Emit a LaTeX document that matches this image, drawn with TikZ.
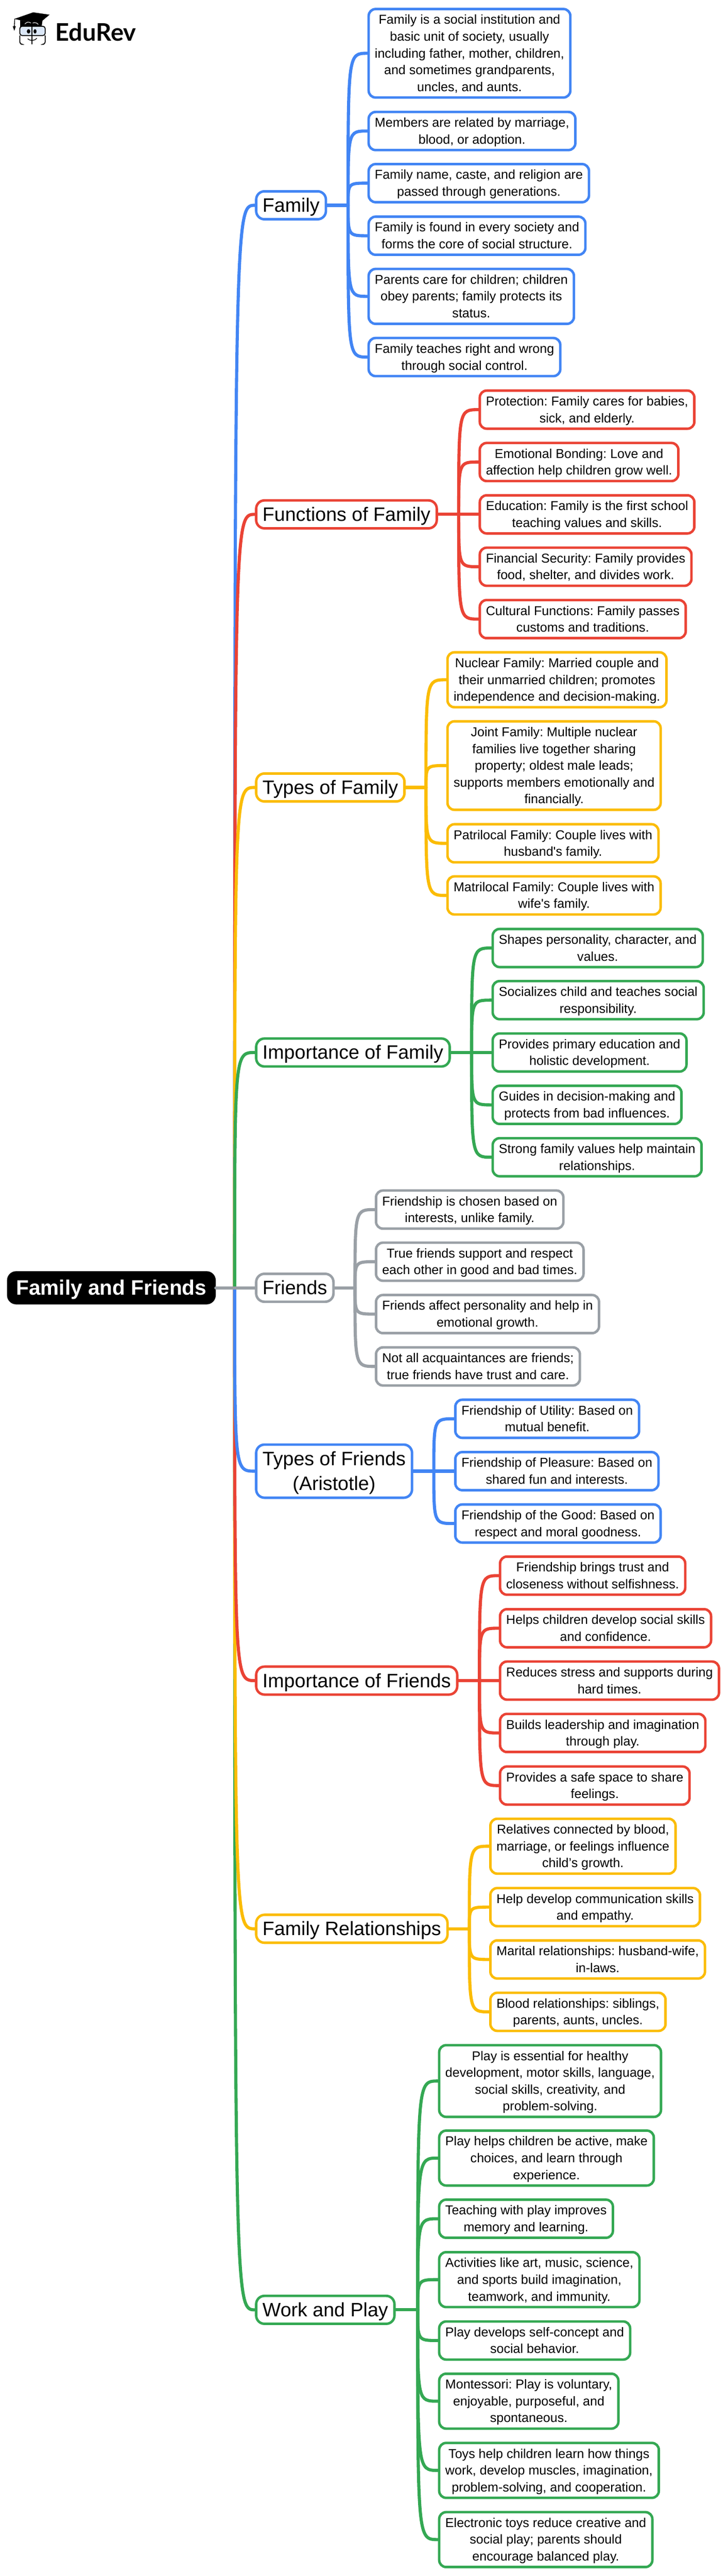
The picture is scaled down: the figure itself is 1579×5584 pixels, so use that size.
\documentclass[tikz,border=0pt]{standalone}
\usepackage{fontspec}
\setmainfont{Liberation Sans}
\newfontfamily\logofont{Lato}
\frenchspacing
\definecolor{mapblue}{HTML}{4285F4}
\definecolor{mapred}{HTML}{EA4335}
\definecolor{mapyellow}{HTML}{FBBC04}
\definecolor{mapgreen}{HTML}{34A853}
\definecolor{mapgray}{HTML}{9AA0A6}
\definecolor{glassblue}{HTML}{DCE8F8}
\def\ml#1{\raisebox{-0.066\baselineskip}[\height][\depth]{\begin{tabular}{@{}c@{}}#1\end{tabular}}}
\tikzset{
	leafbox/.style={draw=#1, fill=white, line width=5.4pt, rounded corners=15pt, anchor=west,
		inner xsep=13.3pt, inner ysep=4.9pt, font=\fontsize{28}{36.4}\selectfont},
	mainbox/.style={draw=#1, fill=white, line width=5.4pt, rounded corners=18pt, anchor=west,
		inner xsep=13.8pt, inner ysep=3pt, font=\fontsize{42}{54.6}\selectfont},
	rootbox/.style={fill=black, text=white, rounded corners=20pt, anchor=west,
		inner xsep=20pt, inner ysep=6.75pt, font=\fontsize{45.3}{58.5}\selectfont\bfseries},
	link/.style={draw=#1, line width=6.8pt, line cap=round}
}

\begin{document}
\begin{tikzpicture}[x=1pt, y=-1pt]
		\useasboundingbox (0, 0) rectangle (1579, 5584);

		%%%%% LOGO %%%%%
		\draw[fill=black] (32, 41) -- (72, 27) -- (107, 32) -- (83, 52) -- cycle;
		\draw[fill=black] (44, 44) -- (83, 52) -- (92, 44) -- (90, 58) -- (44, 58) -- cycle;
		\draw[line width=1.5pt] (32, 41) -- (31, 58);
		\draw[fill=black] (28, 57) -- (34, 57) -- (31, 66) -- cycle;
		\draw[line width=1.2pt, white] (54, 52) .. controls (58, 47) and (63, 47) .. (67, 50);
		\draw[line width=1.2pt, white] (71, 50) .. controls (75, 48) and (80, 49) .. (83, 53);
		\draw[fill=glassblue, line width=2pt, rounded corners=5pt] (43, 57) rectangle (98, 77);
		\draw[line width=2pt, rounded corners=5pt] (46, 96) -- (43, 96) -- (43, 77);
		\draw[line width=2pt, rounded corners=5pt] (95, 96) -- (98, 96) -- (98, 77);
		\draw[line width=2pt] (69, 57) -- (69, 96);
		\draw[fill=black] (62, 68) ellipse (3.5 and 4.5);
		\draw[fill=black] (76, 68) ellipse (3 and 4.5);
		\draw[line width=1.5pt] (60, 84) .. controls (65, 89) and (75, 89) .. (80, 83);
		\node[anchor=west, inner sep=0pt, font=\logofont\fontsize{52.5}{60}\selectfont\bfseries] (logotext) at (120, 69) {EduRev};

		%%%%% ROOT %%%%%
		\node[rootbox] (root) at (15, 2791.5) {\ml{Family and Friends}};
		\coordinate (trunk) at (509, 2791.5);

		%%%%% MAIN NODES %%%%%
		\node[mainbox=mapblue] (family) at (553, 445) {\ml{Family}};
		\node[mainbox=mapred] (functions) at (553, 1115) {\ml{Functions of Family}};
		\node[mainbox=mapyellow] (types) at (553, 1707) {\ml{Types of Family}};
		\node[mainbox=mapgreen] (importance) at (553, 2281.5) {\ml{Importance of Family}};
		\node[mainbox=mapgray] (friends) at (553, 2791.5) {\ml{Friends}};
		\node[mainbox=mapblue] (friendtypes) at (553, 3189) {\ml{Types of Friends\\(Aristotle)}};
		\node[mainbox=mapred] (friendimp) at (553, 3643) {\ml{Importance of Friends}};
		\node[mainbox=mapyellow] (relations) at (553, 4181) {\ml{Family Relationships}};
		\node[mainbox=mapgreen] (work) at (553, 5007) {\ml{Work and Play}};

		%%%%% FAMILY %%%%%
		\coordinate (familyfork) at (755, 445);
		\node[leafbox=mapblue] (fama) at (797, 115.5) {\ml{Family is a social institution and\\basic unit of society, usually\\including father, mother, children,\\and sometimes grandparents,\\uncles, and aunts.}};
		\node[leafbox=mapblue] (famb) at (797, 284) {\ml{Members are related by marriage,\\blood, or adoption.}};
		\node[leafbox=mapblue] (famc) at (797, 397) {\ml{Family name, caste, and religion are\\passed through generations.}};
		\node[leafbox=mapblue] (famd) at (797, 511) {\ml{Family is found in every society and\\forms the core of social structure.}};
		\node[leafbox=mapblue] (fame) at (797, 642.5) {\ml{Parents care for children; children\\obey parents; family protects its\\status.}};
		\node[leafbox=mapblue] (famf) at (797, 774) {\ml{Family teaches right and wrong\\through social control.}};

		\draw[link=mapblue] (family.east) -- (familyfork);
		\draw[link=mapblue] (familyfork) .. controls (familyfork |- fama.west) .. (fama.west);
		\draw[link=mapblue] (familyfork) .. controls (familyfork |- famb.west) .. (famb.west);
		\draw[link=mapblue] (familyfork) .. controls (familyfork |- famc.west) .. (famc.west);
		\draw[link=mapblue] (familyfork) .. controls (familyfork |- famd.west) .. (famd.west);
		\draw[link=mapblue] (familyfork) .. controls (familyfork |- fame.west) .. (fame.west);
		\draw[link=mapblue] (familyfork) .. controls (familyfork |- famf.west) .. (famf.west);

		%%%%% FUNCTIONS %%%%%
		\coordinate (functionsfork) at (995, 1115);
		\node[leafbox=mapred] (funa) at (1038, 888) {\ml{Protection: Family cares for babies,\\sick, and elderly.}};
		\node[leafbox=mapred] (funb) at (1038, 1001.5) {\ml{Emotional Bonding: Love and\\affection help children grow well.}};
		\node[leafbox=mapred] (func) at (1038, 1115) {\ml{Education: Family is the first school\\teaching values and skills.}};
		\node[leafbox=mapred] (fund) at (1038, 1228.5) {\ml{Financial Security: Family provides\\food, shelter, and divides work.}};
		\node[leafbox=mapred] (fune) at (1038, 1342) {\ml{Cultural Functions: Family passes\\customs and traditions.}};

		\draw[link=mapred] (functions.east) -- (functionsfork);
		\draw[link=mapred] (functionsfork) .. controls (functionsfork |- funa.west) .. (funa.west);
		\draw[link=mapred] (functionsfork) .. controls (functionsfork |- funb.west) .. (funb.west);
		\draw[link=mapred] (functionsfork) -- (func.west);
		\draw[link=mapred] (functionsfork) .. controls (functionsfork |- fund.west) .. (fund.west);
		\draw[link=mapred] (functionsfork) .. controls (functionsfork |- fune.west) .. (fune.west);

		%%%%% TYPES %%%%%
		\coordinate (typesfork) at (924, 1707);
		\node[leafbox=mapyellow] (typa) at (968, 1473.5) {\ml{Nuclear Family: Married couple and\\their unmarried children; promotes\\independence and decision-making.}};
		\node[leafbox=mapyellow] (typb) at (968, 1659.5) {\ml{Joint Family: Multiple nuclear\\families live together sharing\\property; oldest male leads;\\supports members emotionally and\\financially.}};
		\node[leafbox=mapyellow] (typc) at (968, 1828) {\ml{Patrilocal Family: Couple lives with\\husband\textquotesingle s family.}};
		\node[leafbox=mapyellow] (typd) at (968, 1941) {\ml{Matrilocal Family: Couple lives with\\wife\textquotesingle s family.}};

		\draw[link=mapyellow] (types.east) -- (typesfork);
		\draw[link=mapyellow] (typesfork) .. controls (typesfork |- typa.west) .. (typa.west);
		\draw[link=mapyellow] (typesfork) .. controls (typesfork |- typb.west) .. (typb.west);
		\draw[link=mapyellow] (typesfork) .. controls (typesfork |- typc.west) .. (typc.west);
		\draw[link=mapyellow] (typesfork) .. controls (typesfork |- typd.west) .. (typd.west);

		%%%%% IMPORTANCE %%%%%
		\coordinate (importancefork) at (1023, 2281.5);
		\node[leafbox=mapgreen] (impa) at (1066, 2055) {\ml{Shapes personality, character, and\\values.}};
		\node[leafbox=mapgreen] (impb) at (1066, 2168) {\ml{Socializes child and teaches social\\responsibility.}};
		\node[leafbox=mapgreen] (impc) at (1066, 2281.5) {\ml{Provides primary education and\\holistic development.}};
		\node[leafbox=mapgreen] (impd) at (1066, 2395) {\ml{Guides in decision-making and\\protects from bad influences.}};
		\node[leafbox=mapgreen] (impe) at (1066, 2508.5) {\ml{Strong family values help maintain\\relationships.}};

		\draw[link=mapgreen] (importance.east) -- (importancefork);
		\draw[link=mapgreen] (importancefork) .. controls (importancefork |- impa.west) .. (impa.west);
		\draw[link=mapgreen] (importancefork) .. controls (importancefork |- impb.west) .. (impb.west);
		\draw[link=mapgreen] (importancefork) -- (impc.west);
		\draw[link=mapgreen] (importancefork) .. controls (importancefork |- impd.west) .. (impd.west);
		\draw[link=mapgreen] (importancefork) .. controls (importancefork |- impe.west) .. (impe.west);

		%%%%% FRIENDS %%%%%
		\coordinate (friendsfork) at (770, 2791.5);
		\node[leafbox=mapgray] (fria) at (813, 2622) {\ml{Friendship is chosen based on\\interests, unlike family.}};
		\node[leafbox=mapgray] (frib) at (813, 2735) {\ml{True friends support and respect\\each other in good and bad times.}};
		\node[leafbox=mapgray] (fric) at (813, 2848.5) {\ml{Friends affect personality and help in\\emotional growth.}};
		\node[leafbox=mapgray] (frid) at (813, 2962) {\ml{Not all acquaintances are friends;\\true friends have trust and care.}};

		\draw[link=mapgray] (friends.east) -- (friendsfork);
		\draw[link=mapgray] (friendsfork) .. controls (friendsfork |- fria.west) .. (fria.west);
		\draw[link=mapgray] (friendsfork) .. controls (friendsfork |- frib.west) .. (frib.west);
		\draw[link=mapgray] (friendsfork) .. controls (friendsfork |- fric.west) .. (fric.west);
		\draw[link=mapgray] (friendsfork) .. controls (friendsfork |- frid.west) .. (frid.west);

		%%%%% TYPES OF FRIENDS %%%%%
		\coordinate (friendtypesfork) at (941, 3189);
		\node[leafbox=mapblue] (ftya) at (985, 3075.5) {\ml{Friendship of Utility: Based on\\mutual benefit.}};
		\node[leafbox=mapblue] (ftyb) at (985, 3189) {\ml{Friendship of Pleasure: Based on\\shared fun and interests.}};
		\node[leafbox=mapblue] (ftyc) at (985, 3302.5) {\ml{Friendship of the Good: Based on\\respect and moral goodness.}};

		\draw[link=mapblue] (friendtypes.east) -- (friendtypesfork);
		\draw[link=mapblue] (friendtypesfork) .. controls (friendtypesfork |- ftya.west) .. (ftya.west);
		\draw[link=mapblue] (friendtypesfork) -- (ftyb.west);
		\draw[link=mapblue] (friendtypesfork) .. controls (friendtypesfork |- ftyc.west) .. (ftyc.west);

		%%%%% IMPORTANCE OF FRIENDS %%%%%
		\coordinate (friendimpfork) at (1040, 3643);
		\node[leafbox=mapred] (fima) at (1082, 3415.5) {\ml{Friendship brings trust and\\closeness without selfishness.}};
		\node[leafbox=mapred] (fimb) at (1082, 3529.5) {\ml{Helps children develop social skills\\and confidence.}};
		\node[leafbox=mapred] (fimc) at (1082, 3643) {\ml{Reduces stress and supports during\\hard times.}};
		\node[leafbox=mapred] (fimd) at (1082, 3756.5) {\ml{Builds leadership and imagination\\through play.}};
		\node[leafbox=mapred] (fime) at (1082, 3870.5) {\ml{Provides a safe space to share\\feelings.}};

		\draw[link=mapred] (friendimp.east) -- (friendimpfork);
		\draw[link=mapred] (friendimpfork) .. controls (friendimpfork |- fima.west) .. (fima.west);
		\draw[link=mapred] (friendimpfork) .. controls (friendimpfork |- fimb.west) .. (fimb.west);
		\draw[link=mapred] (friendimpfork) -- (fimc.west);
		\draw[link=mapred] (friendimpfork) .. controls (friendimpfork |- fimd.west) .. (fimd.west);
		\draw[link=mapred] (friendimpfork) .. controls (friendimpfork |- fime.west) .. (fime.west);

		%%%%% RELATIONSHIPS %%%%%
		\coordinate (relationsfork) at (1018, 4181);
		\node[leafbox=mapyellow] (rela) at (1061, 4002) {\ml{Relatives connected by blood,\\marriage, or feelings influence\\child’s growth.}};
		\node[leafbox=mapyellow] (relb) at (1061, 4134) {\ml{Help develop communication skills\\and empathy.}};
		\node[leafbox=mapyellow] (relc) at (1061, 4247.5) {\ml{Marital relationships: husband-wife,\\in-laws.}};
		\node[leafbox=mapyellow] (reld) at (1061, 4361) {\ml{Blood relationships: siblings,\\parents, aunts, uncles.}};

		\draw[link=mapyellow] (relations.east) -- (relationsfork);
		\draw[link=mapyellow] (relationsfork) .. controls (relationsfork |- rela.west) .. (rela.west);
		\draw[link=mapyellow] (relationsfork) .. controls (relationsfork |- relb.west) .. (relb.west);
		\draw[link=mapyellow] (relationsfork) .. controls (relationsfork |- relc.west) .. (relc.west);
		\draw[link=mapyellow] (relationsfork) .. controls (relationsfork |- reld.west) .. (reld.west);

		%%%%% WORK AND PLAY %%%%%
		\coordinate (workfork) at (906, 5007);
		\node[leafbox=mapgreen] (wora) at (950, 4511) {\ml{Play is essential for healthy\\development, motor skills, language,\\social skills, creativity, and\\problem-solving.}};
		\node[leafbox=mapgreen] (worb) at (950, 4678) {\ml{Play helps children be active, make\\choices, and learn through\\experience.}};
		\node[leafbox=mapgreen] (worc) at (950, 4809.5) {\ml{Teaching with play improves\\memory and learning.}};
		\node[leafbox=mapgreen] (word) at (950, 4941.5) {\ml{Activities like art, music, science,\\and sports build imagination,\\teamwork, and immunity.}};
		\node[leafbox=mapgreen] (wore) at (950, 5073.5) {\ml{Play develops self-concept and\\social behavior.}};
		\node[leafbox=mapgreen] (worf) at (950, 5205) {\ml{Montessori: Play is voluntary,\\enjoyable, purposeful, and\\spontaneous.}};
		\node[leafbox=mapgreen] (worg) at (950, 5355) {\ml{Toys help children learn how things\\work, develop muscles, imagination,\\problem-solving, and cooperation.}};
		\node[leafbox=mapgreen] (worh) at (950, 5505) {\ml{Electronic toys reduce creative and\\social play; parents should\\encourage balanced play.}};

		\draw[link=mapgreen] (work.east) -- (workfork);
		\draw[link=mapgreen] (workfork) .. controls (workfork |- wora.west) .. (wora.west);
		\draw[link=mapgreen] (workfork) .. controls (workfork |- worb.west) .. (worb.west);
		\draw[link=mapgreen] (workfork) .. controls (workfork |- worc.west) .. (worc.west);
		\draw[link=mapgreen] (workfork) .. controls (workfork |- word.west) .. (word.west);
		\draw[link=mapgreen] (workfork) .. controls (workfork |- wore.west) .. (wore.west);
		\draw[link=mapgreen] (workfork) .. controls (workfork |- worf.west) .. (worf.west);
		\draw[link=mapgreen] (workfork) .. controls (workfork |- worg.west) .. (worg.west);
		\draw[link=mapgreen] (workfork) .. controls (workfork |- worh.west) .. (worh.west);

		%%%%% TRUNK LINKS %%%%%
		\draw[link=mapgreen] (trunk) .. controls (trunk |- work.west) .. (work.west);
		\draw[link=mapyellow] (trunk) .. controls (trunk |- relations.west) .. (relations.west);
		\draw[link=mapred] (trunk) .. controls (trunk |- friendimp.west) .. (friendimp.west);
		\draw[link=mapblue] (trunk) .. controls (trunk |- friendtypes.west) .. (friendtypes.west);
		\draw[link=mapblue] (trunk) .. controls (trunk |- family.west) .. (family.west);
		\draw[link=mapred] (trunk) .. controls (trunk |- functions.west) .. (functions.west);
		\draw[link=mapyellow] (trunk) .. controls (trunk |- types.west) .. (types.west);
		\draw[link=mapgreen] (trunk) .. controls (trunk |- importance.west) .. (importance.west);
		\draw[link=mapgray] (root.east) -- (friends.west);
	\end{tikzpicture}
\end{document}
